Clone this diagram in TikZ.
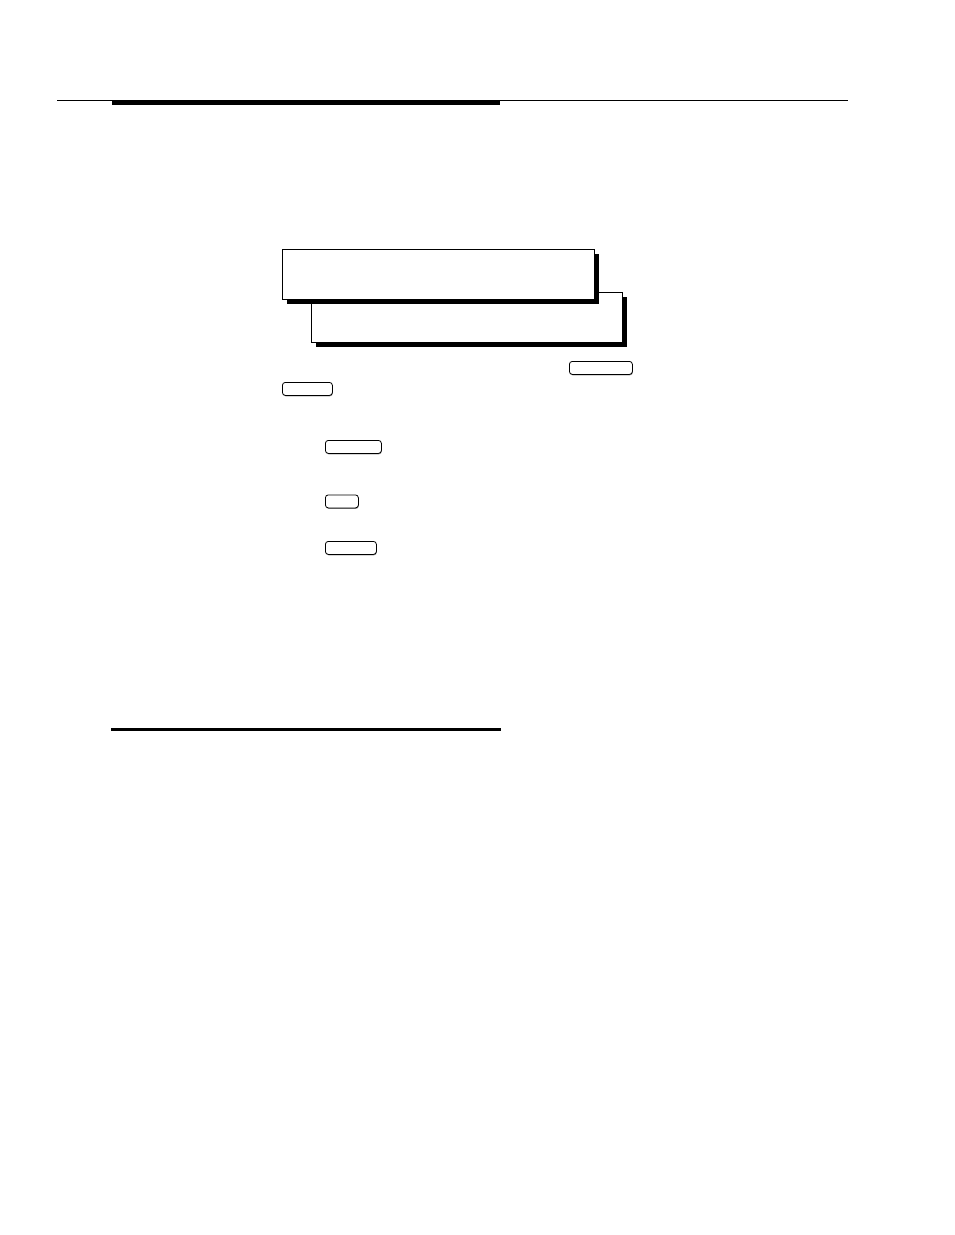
\documentclass[tikz,border=0pt]{standalone}
\usetikzlibrary{shadows}
\begin{document}
\begin{tikzpicture}[x=0.75pt,y=-0.75pt,
  panel/.style={draw=black, fill=white, line width=1.1pt, inner sep=0pt, anchor=north west,
    drop shadow={shadow xshift=3pt, shadow yshift=-3pt, fill=black, opacity=1}},
  keycap/.style={draw=black, fill=white, line width=0.6pt, rounded corners=2.2pt, inner sep=0pt, anchor=north west,
    drop shadow={shadow xshift=0.3pt, shadow yshift=-0.7pt, fill=black!45, opacity=1}},
  rule/.style={line width=1.1pt},
  bar/.style={line width=3.6pt}]
\useasboundingbox (0,0) rectangle (954,1235);
% header rules
\coordinate (h1) at (57,100.5);
\coordinate (h2) at (848,100.5);
\draw[rule] (h1) -- (h2);
\coordinate (b1) at (112,102.8);
\coordinate (b2) at (500,102.8);
\draw[bar] (b1) -- (b2);
% display panels
\node[panel, minimum width=311*0.75pt, minimum height=50*0.75pt] (p2) at (311,292) {};
\node[panel, minimum width=312*0.75pt, minimum height=50*0.75pt] (p1) at (282,249) {};
% keys
\node[keycap, minimum width=63*0.75pt, minimum height=13*0.75pt] (k1) at (569,361) {};
\node[keycap, minimum width=50*0.75pt, minimum height=13*0.75pt] (k2) at (282,382) {};
\node[keycap, minimum width=56*0.75pt, minimum height=13*0.75pt] (k3) at (325,440) {};
\node[keycap, minimum width=33*0.75pt, minimum height=13*0.75pt] (k4) at (325,494.5) {};
\node[keycap, minimum width=51*0.75pt, minimum height=13*0.75pt] (k5) at (325,541) {};
% bottom rule
\coordinate (c1) at (111,729.5);
\coordinate (c2) at (501,729.5);
\draw[line width=2.6pt] (c1) -- (c2);
\end{tikzpicture}
\end{document}
